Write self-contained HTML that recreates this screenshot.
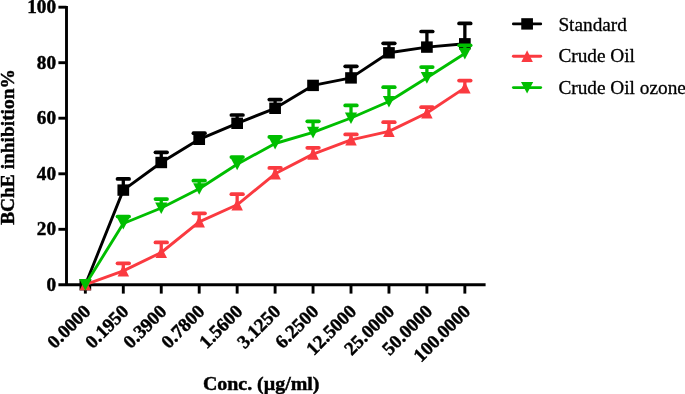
<!DOCTYPE html>
<html><head><meta charset="utf-8"><title>BChE inhibition chart</title>
<style>
html,body{margin:0;padding:0;background:#fff;}
body{width:685px;height:394px;overflow:hidden;}
svg{display:block;will-change:transform;}
text{font-family:"Liberation Serif",serif;fill:#000;}
.b{font-weight:bold;stroke:#000;stroke-width:0.45px;}
.r{font-weight:normal;stroke:#000;stroke-width:0.3px;}
</style></head><body>
<svg width="685" height="394" viewBox="0 0 685 394">
<rect width="685" height="394" fill="#fff"/>
<g id="axes">
<path d="M66.5 5.9V284.8" stroke="#000" stroke-width="2.9" fill="none"/>
<path d="M58.4 284.8H485.6" stroke="#000" stroke-width="2.9" fill="none"/>
<path d="M58.4 229.3H66.5" stroke="#000" stroke-width="2.9" fill="none"/>
<path d="M58.4 173.8H66.5" stroke="#000" stroke-width="2.9" fill="none"/>
<path d="M58.4 118.2H66.5" stroke="#000" stroke-width="2.9" fill="none"/>
<path d="M58.4 62.7H66.5" stroke="#000" stroke-width="2.9" fill="none"/>
<path d="M58.4 7.2H66.5" stroke="#000" stroke-width="2.9" fill="none"/>
<path d="M85.35 284.8V293.6" stroke="#000" stroke-width="2.9" fill="none"/>
<path d="M123.30 284.8V293.6" stroke="#000" stroke-width="2.9" fill="none"/>
<path d="M161.25 284.8V293.6" stroke="#000" stroke-width="2.9" fill="none"/>
<path d="M199.20 284.8V293.6" stroke="#000" stroke-width="2.9" fill="none"/>
<path d="M237.15 284.8V293.6" stroke="#000" stroke-width="2.9" fill="none"/>
<path d="M275.10 284.8V293.6" stroke="#000" stroke-width="2.9" fill="none"/>
<path d="M313.05 284.8V293.6" stroke="#000" stroke-width="2.9" fill="none"/>
<path d="M351.00 284.8V293.6" stroke="#000" stroke-width="2.9" fill="none"/>
<path d="M388.95 284.8V293.6" stroke="#000" stroke-width="2.9" fill="none"/>
<path d="M426.90 284.8V293.6" stroke="#000" stroke-width="2.9" fill="none"/>
<path d="M464.85 284.8V293.6" stroke="#000" stroke-width="2.9" fill="none"/>
</g>
<g id="series">
<polyline points="85.35,284.7 123.30,190.1 161.25,162.5 199.20,139.3 237.15,123.3 275.10,108.3 313.05,85.4 351.00,77.9 388.95,52.8 426.90,47.1 464.85,43.8" fill="none" stroke="#000" stroke-width="2.9" stroke-linejoin="round" stroke-linecap="round"/>
<rect x="79.50" y="279.00" width="11.7" height="11.4" fill="#000"/>
<path d="M123.30 190.1V178.9" stroke="#000" stroke-width="3.3" fill="none"/>
<path d="M117.50 178.9H129.10" stroke="#000" stroke-width="3.7" stroke-linecap="round" fill="none"/>
<rect x="117.45" y="184.40" width="11.7" height="11.4" fill="#000"/>
<path d="M161.25 162.5V152.3" stroke="#000" stroke-width="3.3" fill="none"/>
<path d="M155.45 152.3H167.05" stroke="#000" stroke-width="3.7" stroke-linecap="round" fill="none"/>
<rect x="155.40" y="156.80" width="11.7" height="11.4" fill="#000"/>
<path d="M199.20 139.3V133.2" stroke="#000" stroke-width="3.3" fill="none"/>
<path d="M193.40 133.2H205.00" stroke="#000" stroke-width="3.7" stroke-linecap="round" fill="none"/>
<rect x="193.35" y="133.60" width="11.7" height="11.4" fill="#000"/>
<path d="M237.15 123.3V115.0" stroke="#000" stroke-width="3.3" fill="none"/>
<path d="M231.35 115.0H242.95" stroke="#000" stroke-width="3.7" stroke-linecap="round" fill="none"/>
<rect x="231.30" y="117.60" width="11.7" height="11.4" fill="#000"/>
<path d="M275.10 108.3V99.6" stroke="#000" stroke-width="3.3" fill="none"/>
<path d="M269.30 99.6H280.90" stroke="#000" stroke-width="3.7" stroke-linecap="round" fill="none"/>
<rect x="269.25" y="102.60" width="11.7" height="11.4" fill="#000"/>
<rect x="307.20" y="79.70" width="11.7" height="11.4" fill="#000"/>
<path d="M351.00 77.9V66.3" stroke="#000" stroke-width="3.3" fill="none"/>
<path d="M345.20 66.3H356.80" stroke="#000" stroke-width="3.7" stroke-linecap="round" fill="none"/>
<rect x="345.15" y="72.20" width="11.7" height="11.4" fill="#000"/>
<path d="M388.95 52.8V43.3" stroke="#000" stroke-width="3.3" fill="none"/>
<path d="M383.15 43.3H394.75" stroke="#000" stroke-width="3.7" stroke-linecap="round" fill="none"/>
<rect x="383.10" y="47.10" width="11.7" height="11.4" fill="#000"/>
<path d="M426.90 47.1V31.5" stroke="#000" stroke-width="3.3" fill="none"/>
<path d="M421.10 31.5H432.70" stroke="#000" stroke-width="3.7" stroke-linecap="round" fill="none"/>
<rect x="421.05" y="41.40" width="11.7" height="11.4" fill="#000"/>
<path d="M464.85 43.8V23.4" stroke="#000" stroke-width="3.3" fill="none"/>
<path d="M459.05 23.4H470.65" stroke="#000" stroke-width="3.7" stroke-linecap="round" fill="none"/>
<rect x="459.00" y="38.10" width="11.7" height="11.4" fill="#000"/>
<polyline points="85.35,284.7 123.30,270.9 161.25,252.5 199.20,221.9 237.15,204.8 275.10,173.8 313.05,154.1 351.00,139.8 388.95,131.4 426.90,113.0 464.85,87.9" fill="none" stroke="#fa3a40" stroke-width="2.9" stroke-linejoin="round" stroke-linecap="round"/>
<path d="M85.35 278.60L91.10 290.30H79.60Z" fill="#fa3a40"/>
<path d="M123.30 270.9V263.3" stroke="#fa3a40" stroke-width="3.3" fill="none"/>
<path d="M117.50 263.3H129.10" stroke="#fa3a40" stroke-width="3.7" stroke-linecap="round" fill="none"/>
<path d="M123.30 264.80L129.05 276.50H117.55Z" fill="#fa3a40"/>
<path d="M161.25 252.5V242.4" stroke="#fa3a40" stroke-width="3.3" fill="none"/>
<path d="M155.45 242.4H167.05" stroke="#fa3a40" stroke-width="3.7" stroke-linecap="round" fill="none"/>
<path d="M161.25 246.40L167.00 258.10H155.50Z" fill="#fa3a40"/>
<path d="M199.20 221.9V213.3" stroke="#fa3a40" stroke-width="3.3" fill="none"/>
<path d="M193.40 213.3H205.00" stroke="#fa3a40" stroke-width="3.7" stroke-linecap="round" fill="none"/>
<path d="M199.20 215.80L204.95 227.50H193.45Z" fill="#fa3a40"/>
<path d="M237.15 204.8V194.2" stroke="#fa3a40" stroke-width="3.3" fill="none"/>
<path d="M231.35 194.2H242.95" stroke="#fa3a40" stroke-width="3.7" stroke-linecap="round" fill="none"/>
<path d="M237.15 198.70L242.90 210.40H231.40Z" fill="#fa3a40"/>
<path d="M275.10 173.8V167.9" stroke="#fa3a40" stroke-width="3.3" fill="none"/>
<path d="M269.30 167.9H280.90" stroke="#fa3a40" stroke-width="3.7" stroke-linecap="round" fill="none"/>
<path d="M275.10 167.70L280.85 179.40H269.35Z" fill="#fa3a40"/>
<path d="M313.05 154.1V147.8" stroke="#fa3a40" stroke-width="3.3" fill="none"/>
<path d="M307.25 147.8H318.85" stroke="#fa3a40" stroke-width="3.7" stroke-linecap="round" fill="none"/>
<path d="M313.05 148.00L318.80 159.70H307.30Z" fill="#fa3a40"/>
<path d="M351.00 139.8V134.4" stroke="#fa3a40" stroke-width="3.3" fill="none"/>
<path d="M345.20 134.4H356.80" stroke="#fa3a40" stroke-width="3.7" stroke-linecap="round" fill="none"/>
<path d="M351.00 133.70L356.75 145.40H345.25Z" fill="#fa3a40"/>
<path d="M388.95 131.4V122.2" stroke="#fa3a40" stroke-width="3.3" fill="none"/>
<path d="M383.15 122.2H394.75" stroke="#fa3a40" stroke-width="3.7" stroke-linecap="round" fill="none"/>
<path d="M388.95 125.30L394.70 137.00H383.20Z" fill="#fa3a40"/>
<path d="M426.90 113.0V107.2" stroke="#fa3a40" stroke-width="3.3" fill="none"/>
<path d="M421.10 107.2H432.70" stroke="#fa3a40" stroke-width="3.7" stroke-linecap="round" fill="none"/>
<path d="M426.90 106.90L432.65 118.60H421.15Z" fill="#fa3a40"/>
<path d="M464.85 87.9V80.6" stroke="#fa3a40" stroke-width="3.3" fill="none"/>
<path d="M459.05 80.6H470.65" stroke="#fa3a40" stroke-width="3.7" stroke-linecap="round" fill="none"/>
<path d="M464.85 81.80L470.60 93.50H459.10Z" fill="#fa3a40"/>
<polyline points="85.35,284.7 123.30,223.5 161.25,208.0 199.20,188.8 237.15,164.3 275.10,143.5 313.05,132.4 351.00,118.0 388.95,101.5 426.90,77.7 464.85,53.5" fill="none" stroke="#00be00" stroke-width="2.9" stroke-linejoin="round" stroke-linecap="round"/>
<path d="M85.35 290.70L91.45 279.10H79.25Z" fill="#00be00"/>
<path d="M123.30 223.5V216.5" stroke="#00be00" stroke-width="3.3" fill="none"/>
<path d="M117.50 216.5H129.10" stroke="#00be00" stroke-width="3.7" stroke-linecap="round" fill="none"/>
<path d="M123.30 229.50L129.40 217.90H117.20Z" fill="#00be00"/>
<path d="M161.25 208.0V199.1" stroke="#00be00" stroke-width="3.3" fill="none"/>
<path d="M155.45 199.1H167.05" stroke="#00be00" stroke-width="3.7" stroke-linecap="round" fill="none"/>
<path d="M161.25 214.00L167.35 202.40H155.15Z" fill="#00be00"/>
<path d="M199.20 188.8V180.7" stroke="#00be00" stroke-width="3.3" fill="none"/>
<path d="M193.40 180.7H205.00" stroke="#00be00" stroke-width="3.7" stroke-linecap="round" fill="none"/>
<path d="M199.20 194.80L205.30 183.20H193.10Z" fill="#00be00"/>
<path d="M237.15 164.3V157.1" stroke="#00be00" stroke-width="3.3" fill="none"/>
<path d="M231.35 157.1H242.95" stroke="#00be00" stroke-width="3.7" stroke-linecap="round" fill="none"/>
<path d="M237.15 170.30L243.25 158.70H231.05Z" fill="#00be00"/>
<path d="M275.10 143.5V136.9" stroke="#00be00" stroke-width="3.3" fill="none"/>
<path d="M269.30 136.9H280.90" stroke="#00be00" stroke-width="3.7" stroke-linecap="round" fill="none"/>
<path d="M275.10 149.50L281.20 137.90H269.00Z" fill="#00be00"/>
<path d="M313.05 132.4V121.3" stroke="#00be00" stroke-width="3.3" fill="none"/>
<path d="M307.25 121.3H318.85" stroke="#00be00" stroke-width="3.7" stroke-linecap="round" fill="none"/>
<path d="M313.05 138.40L319.15 126.80H306.95Z" fill="#00be00"/>
<path d="M351.00 118.0V105.4" stroke="#00be00" stroke-width="3.3" fill="none"/>
<path d="M345.20 105.4H356.80" stroke="#00be00" stroke-width="3.7" stroke-linecap="round" fill="none"/>
<path d="M351.00 124.00L357.10 112.40H344.90Z" fill="#00be00"/>
<path d="M388.95 101.5V87.2" stroke="#00be00" stroke-width="3.3" fill="none"/>
<path d="M383.15 87.2H394.75" stroke="#00be00" stroke-width="3.7" stroke-linecap="round" fill="none"/>
<path d="M388.95 107.50L395.05 95.90H382.85Z" fill="#00be00"/>
<path d="M426.90 77.7V67.1" stroke="#00be00" stroke-width="3.3" fill="none"/>
<path d="M421.10 67.1H432.70" stroke="#00be00" stroke-width="3.7" stroke-linecap="round" fill="none"/>
<path d="M426.90 83.70L433.00 72.10H420.80Z" fill="#00be00"/>
<path d="M464.85 53.5V45.3" stroke="#00be00" stroke-width="3.3" fill="none"/>
<path d="M459.05 45.3H470.65" stroke="#00be00" stroke-width="3.7" stroke-linecap="round" fill="none"/>
<path d="M464.85 59.50L470.95 47.90H458.75Z" fill="#00be00"/>
</g>
<g id="labels">
<text x="56.0" y="290.7" text-anchor="end" class="b" font-size="19.2">0</text>
<text x="56.0" y="235.2" text-anchor="end" class="b" font-size="19.2">20</text>
<text x="56.0" y="179.7" text-anchor="end" class="b" font-size="19.2">40</text>
<text x="56.0" y="124.1" text-anchor="end" class="b" font-size="19.2">60</text>
<text x="56.0" y="68.6" text-anchor="end" class="b" font-size="19.2">80</text>
<text x="56.0" y="13.1" text-anchor="end" class="b" font-size="19.2">100</text>
<text transform="translate(91.8 312.5) rotate(-45)" text-anchor="end" class="b" font-size="19">0.0000</text>
<text transform="translate(129.8 312.5) rotate(-45)" text-anchor="end" class="b" font-size="19">0.1950</text>
<text transform="translate(167.8 312.5) rotate(-45)" text-anchor="end" class="b" font-size="19">0.3900</text>
<text transform="translate(205.7 312.5) rotate(-45)" text-anchor="end" class="b" font-size="19">0.7800</text>
<text transform="translate(243.7 312.5) rotate(-45)" text-anchor="end" class="b" font-size="19">1.5600</text>
<text transform="translate(281.6 312.5) rotate(-45)" text-anchor="end" class="b" font-size="19">3.1250</text>
<text transform="translate(319.6 312.5) rotate(-45)" text-anchor="end" class="b" font-size="19">6.2500</text>
<text transform="translate(357.5 312.5) rotate(-45)" text-anchor="end" class="b" font-size="19">12.5000</text>
<text transform="translate(395.5 312.5) rotate(-45)" text-anchor="end" class="b" font-size="19">25.0000</text>
<text transform="translate(433.4 312.5) rotate(-45)" text-anchor="end" class="b" font-size="19">50.0000</text>
<text transform="translate(471.4 312.5) rotate(-45)" text-anchor="end" class="b" font-size="19">100.0000</text>
<text transform="translate(14.0 147) rotate(-90)" text-anchor="middle" class="b" font-size="19.4">BChE inhibition%</text>
<text x="261.2" y="390.2" text-anchor="middle" class="b" font-size="19.4" textLength="116.6" lengthAdjust="spacingAndGlyphs">Conc. (µg/ml)</text>
</g>
<g id="legend">
<path d="M513.4 23.9H540.7" stroke="#000" stroke-width="2.9" stroke-linecap="round"/>
<rect x="521.25" y="18.20" width="11.7" height="11.4" fill="#000"/>
<text x="558.4" y="31.0" class="r" font-size="19.3">Standard</text>
<path d="M513.4 56.3H540.7" stroke="#fa3a40" stroke-width="2.9" stroke-linecap="round"/>
<path d="M527.10 50.20L532.85 61.90H521.35Z" fill="#fa3a40"/>
<text x="558.4" y="62.4" class="r" font-size="19.3">Crude Oil</text>
<path d="M513.4 87.6H540.7" stroke="#00be00" stroke-width="2.9" stroke-linecap="round"/>
<path d="M527.10 93.60L533.20 82.00H521.00Z" fill="#00be00"/>
<text x="558.4" y="94.0" class="r" font-size="19.3">Crude Oil ozone</text>
</g>
</svg>
</body></html>
